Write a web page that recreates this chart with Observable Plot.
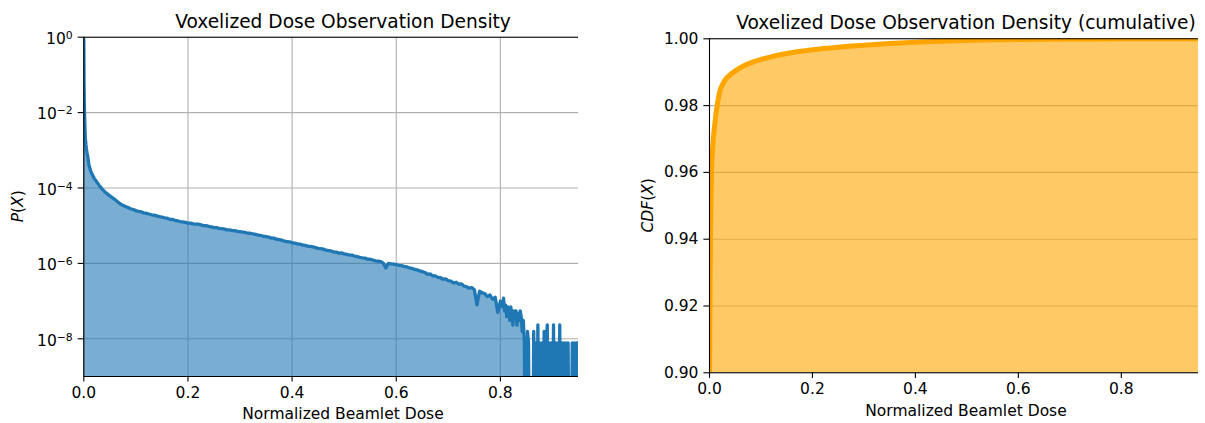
<!DOCTYPE html>
<html>
<head>
<meta charset="utf-8">
<script src="https://cdn.jsdelivr.net/npm/d3@7"></script>
<script src="https://cdn.jsdelivr.net/npm/@observablehq/plot@0.6"></script>
<style>
  html, body { margin: 0; padding: 0; background: #fff; }
  #chart { position: relative; width: 1205px; height: 423px; overflow: hidden; }
  #chart svg { position: absolute; top: 0; }
</style>
</head>
<body>
<div id="chart"></div>
<script>
// Voxel dose histogram: [normalized beamlet dose, P(X)]; 0 marks an empty bin
const densityPoints = [
  [0.0000, 9.0e-1], [0.0005, 6.0e-2], [0.0010, 1.8e-2], [0.0015, 8.5e-3], [0.0020, 5.0e-3],
  [0.0030, 2.1e-3], [0.0040, 1.45e-3], [0.0050, 1.1e-3], [0.0060, 8.9e-4], [0.0080, 6.3e-4],
  [0.0100, 4.0e-4], [0.0130, 2.9e-4], [0.0160, 2.3e-4], [0.0200, 1.8e-4], [0.0250, 1.45e-4],
  [0.0300, 1.15e-4], [0.0350, 9.5e-5], [0.0400, 8.0e-5], [0.0450, 7.0e-5], [0.0500, 6.2e-5],
  [0.0550, 5.5e-5], [0.0600, 4.9e-5], [0.0650, 4.3e-5], [0.0700, 3.8e-5], [0.0750, 3.47e-5],
  [0.0800, 3.24e-5], [0.0850, 3.02e-5], [0.0900, 2.82e-5], [0.0950, 2.69e-5], [0.1000, 2.51e-5],
  [0.105, 2.40e-5], [0.110, 2.34e-5], [0.115, 2.19e-5], [0.120, 2.14e-5], [0.125, 2.04e-5],
  [0.130, 1.95e-5], [0.135, 1.91e-5], [0.140, 1.82e-5], [0.145, 1.74e-5], [0.150, 1.70e-5],
  [0.155, 1.62e-5], [0.160, 1.58e-5], [0.165, 1.48e-5], [0.170, 1.48e-5], [0.175, 1.38e-5],
  [0.180, 1.35e-5], [0.185, 1.29e-5], [0.190, 1.26e-5], [0.195, 1.23e-5], [0.200, 1.17e-5],
  [0.205, 1.17e-5], [0.210, 1.12e-5], [0.215, 1.10e-5], [0.220, 1.10e-5], [0.225, 1.05e-5],
  [0.230, 1.00e-5], [0.235, 1.00e-5], [0.240, 9.55e-6], [0.245, 9.33e-6], [0.250, 8.91e-6],
  [0.255, 8.91e-6], [0.260, 8.51e-6], [0.265, 8.32e-6], [0.270, 8.13e-6], [0.275, 7.76e-6],
  [0.280, 7.76e-6], [0.285, 7.41e-6], [0.290, 7.41e-6], [0.295, 7.08e-6], [0.300, 6.92e-6],
  [0.305, 6.76e-6], [0.310, 6.61e-6], [0.315, 6.31e-6], [0.320, 6.31e-6], [0.325, 6.03e-6],
  [0.330, 5.89e-6], [0.335, 5.62e-6], [0.340, 5.50e-6], [0.345, 5.25e-6], [0.350, 5.13e-6],
  [0.355, 5.01e-6], [0.360, 4.68e-6], [0.365, 4.68e-6], [0.370, 4.37e-6], [0.375, 4.27e-6],
  [0.380, 4.17e-6], [0.385, 3.89e-6], [0.390, 3.80e-6], [0.395, 3.72e-6], [0.400, 3.55e-6],
  [0.405, 3.47e-6], [0.410, 3.31e-6], [0.415, 3.24e-6], [0.420, 3.09e-6], [0.425, 3.02e-6],
  [0.430, 2.88e-6], [0.435, 2.82e-6], [0.440, 2.75e-6], [0.445, 2.63e-6], [0.450, 2.51e-6],
  [0.455, 2.45e-6], [0.460, 2.40e-6], [0.465, 2.24e-6], [0.470, 2.19e-6], [0.475, 2.14e-6],
  [0.480, 2.00e-6], [0.485, 2.00e-6], [0.490, 1.86e-6], [0.495, 1.91e-6], [0.500, 1.78e-6],
  [0.505, 1.74e-6], [0.510, 1.66e-6], [0.515, 1.66e-6], [0.520, 1.55e-6], [0.525, 1.51e-6],
  [0.530, 1.45e-6], [0.535, 1.41e-6], [0.540, 1.38e-6], [0.545, 1.29e-6], [0.550, 1.29e-6],
  [0.555, 1.23e-6], [0.560, 1.17e-6], [0.565, 1.15e-6], [0.570, 1.12e-6], [0.575, 1.02e-6],
  [0.580, 7.59e-7], [0.585, 1.00e-6], [0.590, 9.77e-7], [0.595, 9.55e-7], [0.600, 9.33e-7],
  [0.605, 8.91e-7], [0.610, 8.71e-7], [0.615, 8.32e-7], [0.620, 8.13e-7], [0.625, 7.59e-7],
  [0.630, 7.41e-7], [0.635, 6.92e-7], [0.640, 6.76e-7], [0.645, 6.31e-7], [0.650, 6.03e-7],
  [0.655, 5.75e-7], [0.660, 5.13e-7], [0.665, 5.25e-7], [0.670, 4.68e-7], [0.675, 4.68e-7],
  [0.680, 4.27e-7], [0.685, 4.17e-7], [0.690, 3.80e-7], [0.695, 3.89e-7], [0.700, 3.47e-7],
  [0.705, 3.39e-7], [0.710, 3.02e-7], [0.715, 3.16e-7], [0.720, 2.82e-7], [0.725, 2.88e-7],
  [0.730, 2.51e-7], [0.735, 2.40e-7], [0.740, 2.19e-7], [0.745, 2.29e-7], [0.750, 2.00e-7],
  [0.755, 7.94e-8], [0.760, 1.82e-7], [0.765, 1.66e-7], [0.770, 1.58e-7], [0.775, 1.32e-7],
  [0.780, 1.45e-7], [0.785, 1.12e-7], [0.790, 1.26e-7], [0.795, 5.01e-8], [0.800, 1.00e-7],
  [0.802, 9.4e-8], [0.804, 7.0e-8], [0.806, 1.2e-7], [0.808, 5.5e-8], [0.810, 7.8e-8],
  [0.812, 3.9e-8], [0.814, 7.0e-8], [0.816, 6.2e-8], [0.818, 3.1e-8], [0.820, 7.0e-8],
  [0.822, 4.7e-8], [0.824, 2.3e-8], [0.826, 5.5e-8], [0.828, 3.9e-8], [0.830, 5.5e-8],
  [0.832, 2.3e-8], [0.834, 4.7e-8], [0.836, 3.1e-8], [0.838, 5.5e-8], [0.840, 3.9e-8],
  [0.842, 1.56e-8], [0.844, 3.1e-8], [0.846, 7.8e-9], [0.848, 0], [0.850, 0],
  [0.852, 1.56e-8], [0.854, 7.8e-9], [0.856, 0], [0.858, 0], [0.860, 0],
  [0.862, 0], [0.864, 1.56e-8], [0.866, 0], [0.868, 7.8e-9], [0.870, 0],
  [0.872, 2.34e-8], [0.874, 0], [0.876, 7.8e-9], [0.878, 0], [0.880, 7.8e-9],
  [0.882, 0], [0.884, 1.56e-8], [0.886, 0], [0.888, 7.8e-9], [0.890, 2.34e-8],
  [0.892, 0], [0.894, 7.8e-9], [0.896, 0], [0.898, 7.8e-9], [0.900, 0],
  [0.902, 2.34e-8], [0.904, 0], [0.906, 7.8e-9], [0.908, 0], [0.910, 7.8e-9],
  [0.912, 0], [0.914, 2.34e-8], [0.916, 0], [0.918, 7.8e-9], [0.920, 0],
  [0.922, 7.8e-9], [0.924, 0], [0.926, 7.8e-9], [0.928, 0], [0.930, 7.8e-9],
  [0.932, 0], [0.934, 0], [0.936, 0], [0.938, 7.8e-9], [0.940, 0],
  [0.942, 7.8e-9], [0.944, 0], [0.946, 7.8e-9], [0.948, 0], [0.950, 7.8e-9]
];

// Cumulative distribution: [normalized beamlet dose, CDF(X)]
const cdfPoints = [
  [0.000, 0.895], [0.001, 0.925], [0.002, 0.942], [0.003, 0.953], [0.004, 0.961],
  [0.006, 0.967], [0.008, 0.971], [0.010, 0.974], [0.013, 0.978], [0.016, 0.981],
  [0.020, 0.9843], [0.025, 0.9862], [0.031, 0.9878], [0.040, 0.9892], [0.050, 0.9904],
  [0.065, 0.9918], [0.080, 0.9928], [0.100, 0.9938], [0.125, 0.9948], [0.150, 0.9956],
  [0.200, 0.9967], [0.250, 0.9975], [0.300, 0.9981], [0.350, 0.9986], [0.400, 0.9990],
  [0.450, 0.9993], [0.500, 0.99952], [0.550, 0.99968], [0.600, 0.9998], [0.650, 0.99988],
  [0.700, 0.99993], [0.750, 0.99996], [0.800, 0.99998], [0.850, 0.99999], [0.900, 1.0],
  [0.950, 1.0]
];

const xTicks = [0, 0.2, 0.4, 0.6, 0.8];
const densityTicks = [1, 1e-2, 1e-4, 1e-6, 1e-8];
const cdfTicks = [0.90, 0.92, 0.94, 0.96, 0.98, 1.00];

const densityTitle = "Voxelized Dose Observation Density";
const cdfTitle = "Voxelized Dose Observation Density (cumulative)";
const xLabel = "Normalized Beamlet Dose";

// ---- styling ----
const fontFamily = '"DejaVu Sans", sans-serif';
const tickFont = 15.5;
const titleFont = 18.6;
const blue = "#1f77b4";
const orange = "#ffa500";
const gridColor = "#b0b0b0";
const spine = {stroke: "black", strokeWidth: 1.1};
const zeroFloor = 1e-12; // empty bins drop below the log axis and get clipped

const densityData = densityPoints.map(([dose, p]) => ({dose, p: p > 0 ? p : zeroFloor}));
const cdfData = cdfPoints.map(([dose, c]) => ({dose, c}));

const baseStyle = {fontFamily, fontSize: `${tickFont}px`, color: "black", background: "transparent", overflow: "visible"};
const minus = "\u2212";

const left = Plot.plot({
  width: 600, height: 423,
  marginLeft: 83.3, marginRight: 22, marginTop: 36.7, marginBottom: 47,
  style: baseStyle,
  x: {domain: [0, 0.95]},
  y: {type: "log", domain: [1e-9, 1]},
  marks: [
    Plot.gridX(xTicks, {stroke: gridColor, strokeOpacity: 1, strokeWidth: 1.1}),
    Plot.gridY(densityTicks, {stroke: gridColor, strokeOpacity: 1, strokeWidth: 1.1}),
    Plot.areaY(densityData, {x: "dose", y1: zeroFloor, y2: "p", fill: blue, fillOpacity: 0.6, clip: true}),
    Plot.lineY(densityData, {x: "dose", y: "p", stroke: blue, strokeWidth: 3.3, strokeLinejoin: "round", clip: true}),
    Plot.ruleY([1], spine),
    Plot.ruleY([1e-9], spine),
    Plot.ruleX([0], spine),
    Plot.axisX(xTicks, {tickSize: 5.6, tickPadding: 5, strokeWidth: 1.1, tickFormat: d3.format(".1f"), label: null}),
    Plot.axisY(densityTicks, {
      tickSize: 5.6, tickPadding: 5.5, strokeWidth: 1.1, label: null,
      tickFormat: d => {
        const e = Math.round(Math.log10(d));
        return "10^" + (e < 0 ? minus + (-e) : String(e));
      }
    })
  ]
});

const right = Plot.plot({
  width: 605, height: 423,
  marginLeft: 109, marginRight: 7, marginTop: 38.3, marginBottom: 50.7,
  style: baseStyle,
  x: {domain: [0, 0.95]},
  y: {domain: [0.9, 1.0]},
  marks: [
    Plot.gridY(cdfTicks, {stroke: gridColor, strokeOpacity: 1, strokeWidth: 1.1}),
    Plot.areaY(cdfData, {x: "dose", y1: 0, y2: "c", fill: orange, fillOpacity: 0.6, curve: "monotone-x", clip: true}),
    Plot.lineY(cdfData, {x: "dose", y: "c", stroke: orange, strokeWidth: 5, curve: "monotone-x", clip: true}),
    Plot.ruleY([1.0], spine),
    Plot.ruleY([0.9], spine),
    Plot.ruleX([0], spine),
    Plot.axisX(xTicks, {tickSize: 5.6, tickPadding: 5, strokeWidth: 1.1, tickFormat: d3.format(".1f"), label: null}),
    Plot.axisY(cdfTicks, {tickSize: 5.6, tickPadding: 5.5, strokeWidth: 1.1, tickFormat: d3.format(".2f"), label: null})
  ]
});

// Powers of ten with a raised exponent
d3.select(left).selectAll('g[aria-label="y-axis tick label"] text').each(function () {
  const [base, exp] = this.textContent.split("^");
  const t = d3.select(this).text(null);
  t.append("tspan").attr("dy", "1.8").text(base);
  t.append("tspan").attr("dy", "-4.9").attr("font-size", `${(tickFont * 0.7).toFixed(1)}px`).text(exp);
});

function addText(svg, x, y, size, str) {
  return d3.select(svg).append("text")
    .attr("x", x).attr("y", y)
    .attr("text-anchor", "middle")
    .attr("font-family", fontFamily)
    .attr("font-size", `${size}px`)
    .attr("fill", "black")
    .text(str);
}

function addYLabel(svg, x, y, parts) {
  const t = d3.select(svg).append("text")
    .attr("transform", `translate(${x},${y}) rotate(-90)`)
    .attr("text-anchor", "middle")
    .attr("font-family", fontFamily)
    .attr("font-size", `${tickFont}px`)
    .attr("fill", "black");
  for (const [s, italic] of parts) {
    t.append("tspan").attr("font-style", italic ? "italic" : "normal").text(s);
  }
}

addText(left, 343, 27.5, titleFont, densityTitle);
addText(left, 343, 418.5, tickFont, xLabel);
addYLabel(left, 23, 206.3, [["P", true], ["(", false], ["X", true], [")", false]]);

addText(right, 366, 28.5, titleFont, cdfTitle);
addText(right, 366, 415.5, tickFont, xLabel);
addYLabel(right, 53, 205.3, [["CDF", true], ["(", false], ["X", true], [")", false]]);

const chart = document.getElementById("chart");
left.style.left = "0px";
right.style.left = "600px";
chart.append(left, right);
</script>
</body>
</html>
